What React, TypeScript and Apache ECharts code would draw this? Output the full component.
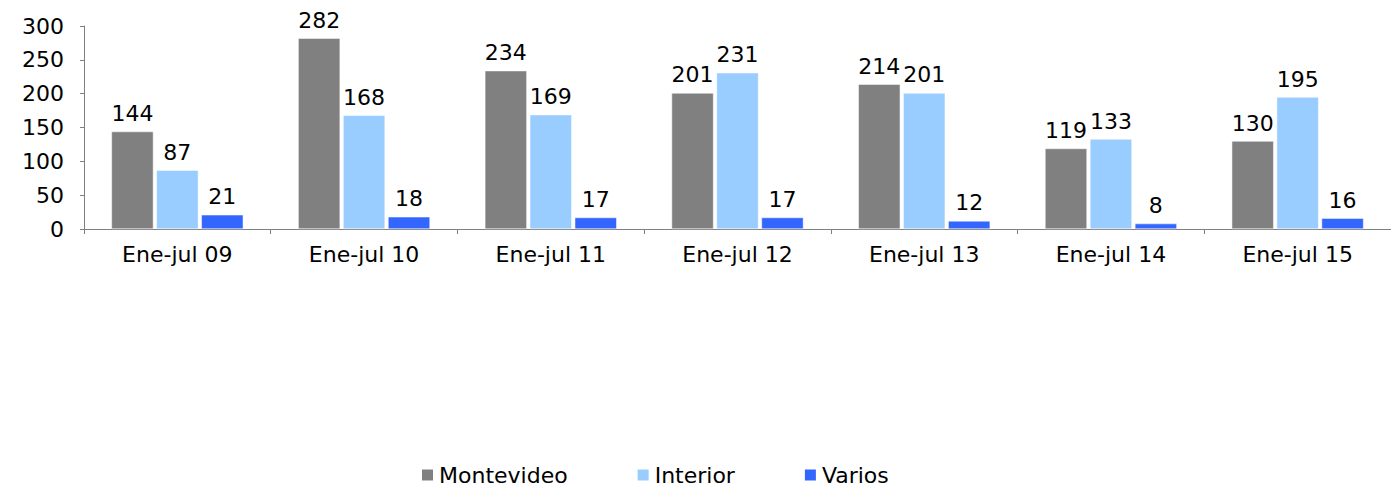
import React, { useEffect, useRef } from "react";
import * as echarts from "echarts";

const categories = ["Ene-jul 09", "Ene-jul 10", "Ene-jul 11", "Ene-jul 12", "Ene-jul 13", "Ene-jul 14", "Ene-jul 15"];
const montevideo = [144, 282, 234, 201, 214, 119, 130];
const interior = [87, 168, 169, 231, 201, 133, 195];
const varios = [21, 18, 17, 17, 12, 8, 16];
const seriesNames = ["Montevideo", "Interior", "Varios"];
const colors = ["#808080", "#99CCFF", "#3366FF"];

export default function App() {
  const ref = useRef<HTMLDivElement>(null);
  useEffect(() => {
    if (!ref.current) return;
    const chart = echarts.init(ref.current, undefined, { renderer: "svg" });
    const font = "'DejaVu Sans', sans-serif";
    const fs = 22;
    const mk = (name: string, data: number[], color: string) => ({
      name,
      type: "bar",
      data,
      barWidth: 42,
      barGap: "7%",
      itemStyle: { color, borderColor: "#ffffff", borderWidth: 0.5 },
      label: {
        show: true,
        position: "top",
        distance: 7,
        color: "#000",
        fontSize: fs,
        fontFamily: font,
      },
    });
    chart.setOption({
      animation: false,
      backgroundColor: "#ffffff",
      grid: { left: 84, right: -16, top: 26, bottom: 257, containLabel: false },
      legend: {
        bottom: 0,
        left: 420,
        padding: 0,
        itemWidth: 13,
        itemHeight: 13,
        itemGap: 68,
        icon: "rect",
        textStyle: { fontSize: fs, fontFamily: font, color: "#000" },
        data: seriesNames,
      },
      xAxis: {
        type: "category",
        data: categories,
        axisLine: { lineStyle: { color: "#808080", width: 1 } },
        axisTick: { show: true, length: 5, lineStyle: { color: "#808080" } },
        axisLabel: { fontSize: fs, fontFamily: font, color: "#000", margin: 14 },
      },
      yAxis: {
        type: "value",
        min: 0,
        max: 300,
        interval: 50,
        splitLine: { show: false },
        axisLine: { show: true, lineStyle: { color: "#808080", width: 1 } },
        axisTick: { show: true, length: 4, lineStyle: { color: "#808080" } },
        axisLabel: { fontSize: fs, fontFamily: font, color: "#000", margin: 20 },
      },
      series: [
        mk(seriesNames[0], montevideo, colors[0]),
        mk(seriesNames[1], interior, colors[1]),
        mk(seriesNames[2], varios, colors[2]),
      ],
    });
    return () => chart.dispose();
  }, []);
  return (
    <div
      ref={ref}
      style={{ position: "absolute", left: 0, top: 0, width: 1391, height: 486 }}
    />
  );
}
